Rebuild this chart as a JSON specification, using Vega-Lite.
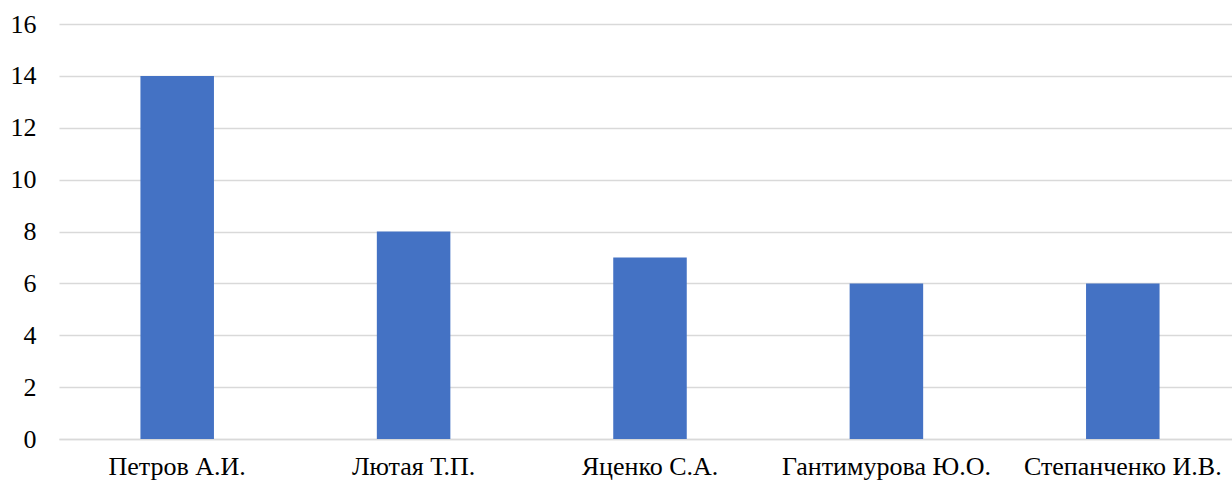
{
  "$schema": "https://vega.github.io/schema/vega-lite/v6.json",
  "autosize": {"type": "none"},
  "padding": {"left": 59, "top": 24, "right": 0, "bottom": 45},
  "width": 1182,
  "height": 415,
  "background": "white",
  "data": {
    "values": [
      {"name": "Петров А.И.", "value": 14},
      {"name": "Лютая Т.П.", "value": 8},
      {"name": "Яценко С.А.", "value": 7},
      {"name": "Гантимурова Ю.О.", "value": 6},
      {"name": "Степанченко И.В.", "value": 6}
    ]
  },
  "config": {
    "view": {"stroke": null},
    "font": "serif"
  },
  "mark": {"type": "bar", "color": "#4472C4"},
  "encoding": {
    "x": {
      "field": "name",
      "type": "nominal",
      "sort": null,
      "scale": {"paddingInner": 0.689, "paddingOuter": 0.3445},
      "axis": {
        "title": null,
        "labelAngle": 0,
        "labelFont": "serif",
        "labelFontSize": 26,
        "labelColor": "#000000",
        "labelPadding": 14,
        "labelLimit": 0,
        "ticks": false,
        "domainColor": "#d9d9d9",
        "domainWidth": 1.5
      }
    },
    "y": {
      "field": "value",
      "type": "quantitative",
      "scale": {"domain": [0, 16]},
      "axis": {
        "title": null,
        "values": [0, 2, 4, 6, 8, 10, 12, 14, 16],
        "labelFont": "serif",
        "labelFontSize": 26,
        "labelColor": "#000000",
        "labelPadding": 23,
        "ticks": false,
        "domain": false,
        "gridColor": "#d9d9d9",
        "gridWidth": 1.5
      }
    }
  }
}
